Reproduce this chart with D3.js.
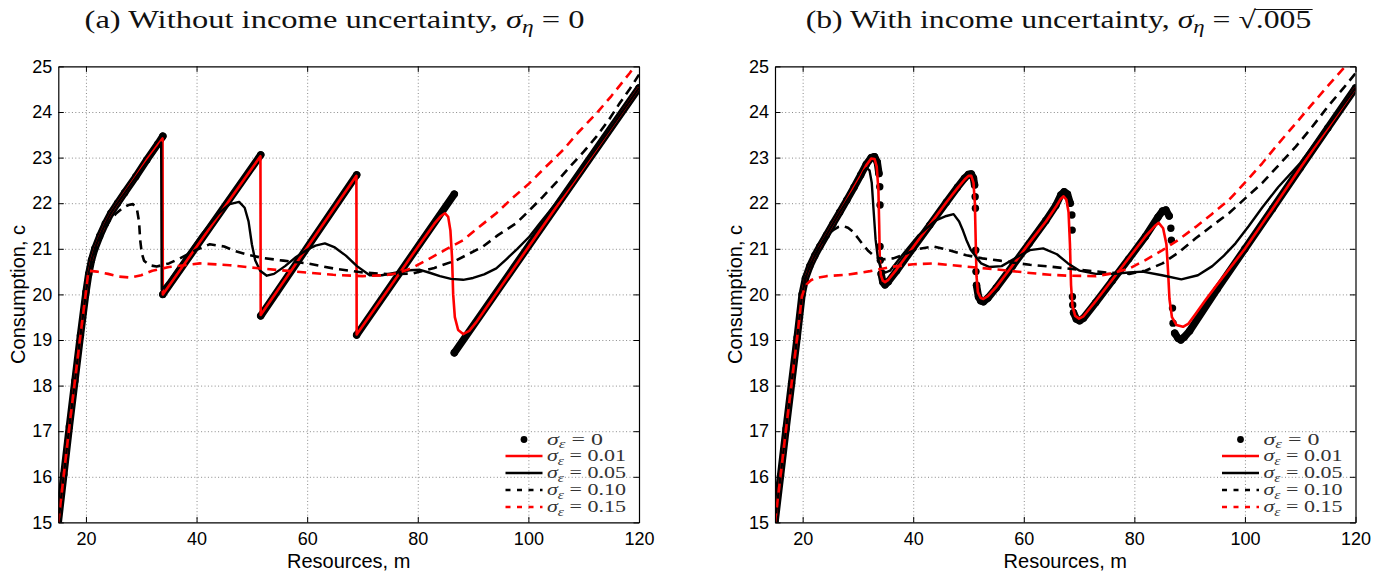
<!DOCTYPE html>
<html>
<head>
<meta charset="utf-8">
<script src="https://cdn.jsdelivr.net/npm/d3@7/dist/d3.min.js"></script>
<style>
  body { margin: 0; background: #fff; }
  svg text { font-family: "Liberation Sans", Arial, sans-serif; }
  .serif { font-family: "Liberation Serif", "DejaVu Serif", serif; }
</style>
</head>
<body>
<div id="grafico"></div>
<script>
/**************************************************
 * Data
 ***************************************************/
const xTicks = [20, 40, 60, 80, 100, 120];
const yTicks = [15, 16, 17, 18, 19, 20, 21, 22, 23, 24, 25];
const legendLabels = ["0", "0.01", "0.05", "0.10", "0.15"];
const titles = ["(a) Without income uncertainty, ", "(b) With income uncertainty, "];
const titleTails = ["0", ".005"];

// panel (a): sigma_eta = 0
// sigma_eps = 0 (dots), given as separate pieces (no jumps drawn)
const aSig0 = [
  [[15,15],[16,16.05],[17,17.1],[18,18.1],[19,19.1],[20,20.05],[20.5,20.45],[21,20.75],[21.6,21.0],[22.5,21.28],[23.5,21.55],[24.5,21.78],[25.7,22.0],[27,22.23],[29,22.58],[31,22.95],[33,23.3],[33.9,23.47]],
  [[33.9,20.0],[51.6,23.06]],
  [[51.6,19.53],[68.95,22.62]],
  [[68.95,19.11],[86.6,22.2]],
  [[86.6,18.72],[120,24.53]]
];
const aSig01 = [[15,15],[16,16.05],[17,17.1],[18,18.1],[19,19.1],[20,20.05],[20.5,20.45],[21,20.75],[21.6,21.0],[22.5,21.28],[23.5,21.55],[24.5,21.78],[25.7,22.0],[27,22.23],[29,22.58],[31,22.95],[33,23.28],[33.85,23.42],[33.9,20.0],[51.55,23.03],[51.6,19.55],[68.9,22.6],[68.95,19.12],[75,20.17],[80,21.04],[83,21.55],[84.2,21.72],[84.9,21.78],[85.5,21.7],[85.9,21.4],[86.2,20.8],[86.4,20.0],[86.7,19.5],[87.3,19.22],[88.2,19.13],[89.3,19.2],[90.5,19.38],[92,19.64],[120,24.53]];
const aSig05 = [[15,15],[16,16.05],[17,17.1],[18,18.1],[19,19.1],[20,20.05],[20.5,20.45],[21,20.75],[21.6,21.0],[22.5,21.28],[23.5,21.55],[24.5,21.78],[25.7,22.0],[27,22.22],[29,22.56],[31,22.9],[33,23.22],[33.6,23.33],[33.7,20.1],[35,20.3],[38,20.82],[41,21.33],[44,21.78],[46,21.98],[47.7,22.03],[48.7,21.9],[49.4,21.6],[50,21.1],[50.6,20.75],[51.5,20.52],[52.7,20.41],[54,20.45],[56,20.62],[58,20.82],[60,20.98],[61.5,21.07],[63.2,21.12],[65,21.03],[67,20.85],[69,20.62],[71.3,20.42],[73.5,20.42],[76.2,20.48],[78.5,20.53],[80.4,20.54],[82,20.48],[84,20.4],[86,20.34],[88.2,20.32],[90,20.36],[92,20.44],[94.2,20.57],[96,20.77],[98,21.0],[100.2,21.27],[102,21.55],[104,21.85],[106,22.15],[108,22.48],[110,22.82],[115,23.67],[120,24.53]];
const aSig10 = [[15,15],[16,16.05],[17,17.1],[18,18.1],[19,19.1],[20,20.0],[20.5,20.4],[21,20.68],[22,21.05],[23,21.35],[24.3,21.62],[25.5,21.78],[26.7,21.9],[27.7,21.96],[28.5,21.98],[29.2,21.88],[29.6,21.6],[29.8,21.2],[30.1,20.9],[30.5,20.74],[31.5,20.64],[32.8,20.61],[35,20.68],[37,20.79],[40,20.98],[42.4,21.1],[45,21.05],[47,20.95],[49.6,20.86],[52,20.8],[55.7,20.74],[60,20.68],[64.7,20.57],[70.1,20.48],[75,20.44],[79.2,20.46],[83,20.58],[87,20.75],[91.8,21.05],[94.5,21.3],[97.8,21.56],[100,21.82],[102.6,22.14],[105,22.45],[107.5,22.8],[110,23.13],[112.3,23.46],[114.5,23.82],[116.5,24.19],[118.3,24.5],[120,24.82]];
const aSig15 = [[15,15],[16,16.05],[17,17.1],[18,18.1],[19,19.1],[20,20.05],[20.45,20.52],[22,20.5],[24,20.45],[26,20.39],[28,20.37],[30,20.42],[32,20.52],[35,20.6],[40.6,20.68],[46,20.64],[51.4,20.57],[58,20.5],[64.7,20.43],[70,20.4],[74,20.42],[76.2,20.46],[79,20.58],[82.2,20.79],[85,20.98],[88.2,21.19],[91,21.47],[94.2,21.78],[97,22.1],[100.2,22.44],[103,22.78],[106.3,23.17],[109,23.55],[112.3,23.97],[115,24.35],[118.3,24.85],[119.5,25.05]];

// panel (b): sigma_eta = sqrt(.005)
const bSig0 = [
  [[15,15],[16,16.02],[17,17.05],[18,18.05],[19,19.05],[19.9,20.0],[20.5,20.35],[21.3,20.62],[22.2,20.85],[23.1,21.05],[24.3,21.3],[25.5,21.55],[26.7,21.8],[28,22.07],[29.3,22.35],[30.5,22.62],[31.5,22.85],[32.4,23.0],[33.0,23.02],[33.5,22.9],[33.8,22.65]],
  [[33.95,22.36]],[[34.0,21.96]],[[34.0,21.05]],[[34.05,20.75]],
  [[34.2,20.45],[34.5,20.27],[34.9,20.21],[35.5,20.28],[37,20.52],[40,21.02],[43,21.52],[46,22.02],[48,22.35],[49.3,22.55],[50.0,22.63],[50.5,22.64],[50.9,22.55],[51.1,22.4]],
  [[51.2,22.14]],[[51.25,21.89]],[[51.3,20.97]],[[51.35,20.5]],
  [[51.45,20.2],[51.8,19.95],[52.2,19.86],[52.7,19.84],[53.5,19.92],[55,20.14],[58,20.63],[61,21.12],[64,21.62],[65.8,21.95],[66.7,22.18],[67.3,22.25],[67.9,22.2],[68.4,22.0]],
  [[68.7,21.74]],[[68.75,21.41]],[[68.8,19.95]],[[68.85,19.77]],
  [[69.0,19.6],[69.5,19.46],[70.1,19.42],[70.8,19.48],[73,19.82],[76,20.3],[79,20.78],[82,21.27],[84.3,21.7],[85.1,21.83],[85.7,21.85],[86.3,21.72]],
  [[86.6,21.45]],[[86.7,21.19]],[[86.9,19.7]],[[87.0,19.37]],
  [[87.3,19.15],[87.9,19.04],[88.4,19.0],[89,19.06],[90,19.2],[95,20.12],[100,21.0],[105,21.88],[110,22.77],[115,23.65],[120,24.53]]
];
const bSig01 = [[15,15],[16,16.02],[17,17.05],[18,18.05],[19,19.05],[19.9,20.0],[20.5,20.35],[21.3,20.62],[22.2,20.85],[23.1,21.05],[24.3,21.3],[25.5,21.55],[26.7,21.8],[28,22.07],[29.3,22.35],[30.5,22.6],[31.5,22.83],[32.4,22.98],[33.0,22.97],[33.4,22.8],[33.7,22.3],[33.85,21.5],[33.95,20.8],[34.15,20.42],[34.5,20.3],[34.9,20.27],[35.5,20.32],[37,20.55],[40,21.04],[43,21.53],[46,22.02],[48,22.33],[49.3,22.52],[50.0,22.6],[50.5,22.6],[50.9,22.45],[51.15,22.0],[51.3,21.2],[51.45,20.4],[51.7,20.05],[52.2,19.92],[52.7,19.9],[53.5,19.96],[55,20.16],[58,20.64],[61,21.13],[64,21.6],[65.8,21.92],[66.7,22.1],[67.2,22.15],[67.7,22.08],[68.1,21.8],[68.35,21.1],[68.55,20.2],[68.8,19.75],[69.3,19.53],[70.0,19.47],[70.8,19.52],[73,19.85],[76,20.32],[79,20.8],[82,21.27],[83.7,21.5],[84.4,21.57],[85.2,21.45],[85.8,21.1],[86.1,20.5],[86.35,19.9],[86.8,19.5],[87.6,19.33],[88.8,19.29],[89.8,19.36],[91,19.56],[93,19.9],[95,20.22],[100,21.0],[105,21.88],[110,22.77],[115,23.65],[120,24.53]];
const bSig05 = [[15,15],[16,16.02],[17,17.05],[18,18.05],[19,19.05],[19.9,20.0],[20.5,20.35],[21.3,20.62],[22.2,20.85],[23.1,21.05],[24.3,21.3],[25.5,21.55],[26.7,21.8],[28,22.05],[29.3,22.3],[30.5,22.55],[31.1,22.7],[31.6,22.77],[32.1,22.72],[32.5,22.45],[32.8,21.9],[33.2,21.2],[33.6,20.8],[34.2,20.55],[35,20.48],[35.8,20.52],[38,20.86],[41,21.3],[44,21.62],[46,21.72],[47.3,21.76],[48.3,21.6],[49.0,21.4],[49.6,21.2],[50.4,20.98],[51.2,20.85],[52.3,20.68],[53.8,20.6],[56,20.62],[58.5,20.8],[61.1,20.97],[63.5,21.01],[66,20.88],[68,20.68],[70.1,20.52],[73,20.45],[76.1,20.45],[79,20.48],[81.5,20.5],[85,20.42],[88.5,20.33],[91.5,20.42],[94.1,20.62],[96.2,20.85],[98.3,21.12],[100.7,21.5],[103.1,21.9],[106,22.35],[110,22.88],[115,23.7],[120,24.53]];
const bSig10 = [[15,15],[16,16.02],[17,17.05],[18,18.05],[19,19.05],[19.9,20.0],[20.5,20.35],[21.3,20.62],[22.2,20.85],[23.1,21.05],[23.8,21.18],[25.5,21.41],[26.5,21.48],[27.35,21.5],[28.2,21.46],[29.15,21.37],[30.1,21.22],[30.96,21.08],[31.9,20.95],[32.76,20.86],[33.7,20.8],[34.6,20.77],[36.4,20.79],[38.5,20.88],[40.6,20.99],[43.6,21.05],[46.5,20.97],[49.6,20.86],[52.5,20.79],[55.7,20.74],[58.5,20.69],[61.1,20.65],[64.7,20.61],[70.1,20.54],[75,20.48],[79.1,20.45],[82,20.52],[85.1,20.68],[88,20.92],[91.1,21.23],[94,21.5],[97.1,21.78],[100,22.1],[103.1,22.44],[106,22.82],[109.2,23.24],[112,23.65],[115.2,24.15],[118,24.55],[120,24.85]];
const bSig15 = [[15,15],[16,16.02],[17,17.05],[18,18.05],[19,19.05],[19.85,19.95],[20.3,20.12],[20.8,20.23],[21.5,20.31],[22.3,20.36],[24.3,20.4],[28,20.43],[32.2,20.51],[36.4,20.61],[40,20.66],[43.6,20.68],[49.6,20.61],[55.7,20.54],[61.1,20.47],[64.7,20.43],[68,20.41],[73.1,20.4],[76,20.46],[79.1,20.57],[82,20.75],[85.1,20.97],[88,21.2],[91.1,21.48],[94,21.76],[97.1,22.07],[100,22.45],[103.1,22.87],[106,23.3],[109.2,23.75],[112,24.15],[115.2,24.6],[118.9,25.1]];

/**************************************************
 * Layout / styles
 ***************************************************/
const width = 1399, height = 578;
const plotTop = 66.4, plotBottom = 522.4;
const panels = [
  { left: 58.3, right: 639, titleX: 334.5, titleW: 500, dots: aSig0, lines: [aSig01, aSig05, aSig10, aSig15] },
  { left: 775, right: 1355.5, titleX: 1058.5, titleW: 507, dots: bSig0, lines: [bSig01, bSig05, bSig10, bSig15] }
];
const lineStyles = [
  { color: "#ff0000", w: 2.6, dash: null },
  { color: "#000000", w: 2.4, dash: null },
  { color: "#000000", w: 2.6, dash: "9,6" },
  { color: "#ff0000", w: 2.6, dash: "9,6" }
];

const svg = d3.select("#grafico").append("svg")
  .attr("width", width).attr("height", height)
  .style("display", "block");

// stretch a text horizontally around an anchor x so it gets the wanted width
const stretch = (sel, anchorX, targetW) => {
  const w = sel.node().getBBox().width;
  const k = targetW / w;
  sel.attr("transform", `translate(${anchorX},0) scale(${k},1) translate(${-anchorX},0)`);
  return k;
};

panels.forEach((p, pi) => {
  const x = d3.scaleLinear().domain([15, 120]).range([p.left, p.right]);
  const y = d3.scaleLinear().domain([15, 25]).range([plotBottom, plotTop]);
  const plotW = p.right - p.left, plotH = plotBottom - plotTop;

  // clip
  svg.append("clipPath").attr("id", "clip" + pi)
    .append("rect").attr("x", p.left).attr("y", plotTop).attr("width", plotW).attr("height", plotH);

  /**************************************************
   * Grid (dotted)
   ***************************************************/
  const grid = svg.append("g").attr("class", "grid");
  grid.append("g")
    .attr("transform", `translate(0,${plotBottom})`)
    .call(d3.axisBottom(x).tickValues(xTicks.filter(t => t < 120)).tickSize(-plotH).tickFormat(""));
  grid.append("g")
    .attr("transform", `translate(${p.left},0)`)
    .call(d3.axisLeft(y).tickValues(yTicks.filter(t => t > 15 && t < 25)).tickSize(-plotW).tickFormat(""));
  grid.selectAll(".domain").remove();
  grid.selectAll("line").attr("stroke", "#8a8a8a").attr("stroke-width", 1).attr("stroke-dasharray", "1,2.4");

  /**************************************************
   * Series
   ***************************************************/
  const line = d3.line().x(d => x(d[0])).y(d => y(d[1]));
  const curves = svg.append("g").attr("clip-path", `url(#clip${pi})`);

  // sigma_eps = 0 : dense dots
  p.dots.filter(s => s.length > 1).forEach(s => {
    curves.append("path").attr("d", line(s))
      .attr("fill", "none").attr("stroke", "#000").attr("stroke-width", 7.4)
      .attr("stroke-linecap", "round").attr("stroke-linejoin", "round");
  });
  curves.selectAll("circle.dot0")
    .data(p.dots.flat())
    .enter().append("circle").attr("class", "dot0")
    .attr("cx", d => x(d[0])).attr("cy", d => y(d[1])).attr("r", 3.7).attr("fill", "#000");

  p.lines.forEach((s, i) => {
    const st = lineStyles[i];
    curves.append("path").attr("d", line(s))
      .attr("fill", "none").attr("stroke", st.color).attr("stroke-width", st.w)
      .attr("stroke-linejoin", "round")
      .attr("stroke-dasharray", st.dash);
  });

  /**************************************************
   * Axes (box, ticks inward)
   ***************************************************/
  const axes = svg.append("g").attr("class", "axes");
  axes.append("g").attr("transform", `translate(0,${plotBottom})`)
    .call(d3.axisBottom(x).tickValues(xTicks).tickSize(-5.5).tickSizeOuter(0).tickPadding(10));
  axes.append("g").attr("transform", `translate(0,${plotTop})`)
    .call(d3.axisTop(x).tickValues(xTicks).tickSize(-5.5).tickSizeOuter(0).tickFormat(""));
  axes.append("g").attr("transform", `translate(${p.left},0)`)
    .call(d3.axisLeft(y).tickValues(yTicks).tickSize(-5.5).tickSizeOuter(0).tickPadding(6));
  axes.append("g").attr("transform", `translate(${p.right},0)`)
    .call(d3.axisRight(y).tickValues(yTicks).tickSize(-5.5).tickSizeOuter(0).tickFormat(""));
  axes.selectAll(".domain").attr("stroke", "#000").attr("stroke-width", 1.2);
  axes.selectAll(".tick line").attr("stroke", "#000").attr("stroke-width", 1);
  axes.selectAll(".tick text").attr("fill", "#000").style("font-size", "18px")
    .style("font-family", "'Liberation Sans', Arial, sans-serif");

  // axis titles
  svg.append("text")
    .attr("x", (p.left + p.right) / 2).attr("y", 568)
    .attr("text-anchor", "middle").style("font-size", "20px")
    .text("Resources, m");
  svg.append("text")
    .attr("transform", `translate(${p.left - 33},${(plotTop + plotBottom) / 2}) rotate(-90)`)
    .attr("text-anchor", "middle").style("font-size", "20px")
    .text("Consumption, c");

  /**************************************************
   * Title
   ***************************************************/
  const tg = svg.append("g");
  const t = tg.append("text").attr("class", "serif")
    .attr("x", p.titleX).attr("y", 28).attr("text-anchor", "middle")
    .style("font-size", "25px").attr("fill", "#111");
  t.append("tspan").text(titles[pi]);
  t.append("tspan").style("font-style", "italic").text("σ");
  t.append("tspan").style("font-style", "italic").style("font-size", "18px").attr("dy", 5).text("η");
  t.append("tspan").attr("dy", -5).text(pi === 0 ? " = " : " = √");
  t.append("tspan").text(titleTails[pi]);
  if (pi === 1) {
    // vinculum over the radicand
    const node = t.node();
    const full = node.textContent;
    const i0 = full.lastIndexOf(titleTails[1]);
    const a = node.getStartPositionOfChar(i0);
    const b = node.getEndPositionOfChar(full.length - 1);
    tg.append("line")
      .attr("x1", a.x - 1).attr("x2", b.x + 1)
      .attr("y1", 9.5).attr("y2", 9.5)
      .attr("stroke", "#111").attr("stroke-width", 1.2);
  }
  stretch(tg, p.titleX, p.titleW);

  /**************************************************
   * Legend (no box, no background)
   ***************************************************/
  const lg = svg.append("g").attr("class", "legend");
  const rows = [439.5, 456, 473, 490, 507];
  const lx0 = p.right - 133.5, lx1 = p.right - 96.5, tx = p.right - 92;
  legendLabels.forEach((lab, i) => {
    const yy = rows[i];
    if (i === 0) {
      lg.append("circle").attr("cx", p.right - 115).attr("cy", yy).attr("r", 3.4).attr("fill", "#000");
    } else {
      const st = lineStyles[i - 1];
      lg.append("line").attr("x1", lx0).attr("x2", lx1).attr("y1", yy).attr("y2", yy)
        .attr("stroke", st.color).attr("stroke-width", st.w).attr("stroke-dasharray", st.dash ? "5,6.5" : null);
    }
    const tt = lg.append("text").attr("class", "serif")
      .attr("x", tx).attr("y", yy + 5.5).style("font-size", "17px").attr("fill", "#333");
    tt.append("tspan").style("font-style", "italic").text("σ");
    tt.append("tspan").style("font-style", "italic").style("font-size", "12px").attr("dy", 3.5).text("ε");
    tt.append("tspan").attr("dy", -3.5).text(" = " + lab);
    stretch(tt, tx, lab.length === 1 ? 56 : 79);
  });
});
</script>
</body>
</html>
